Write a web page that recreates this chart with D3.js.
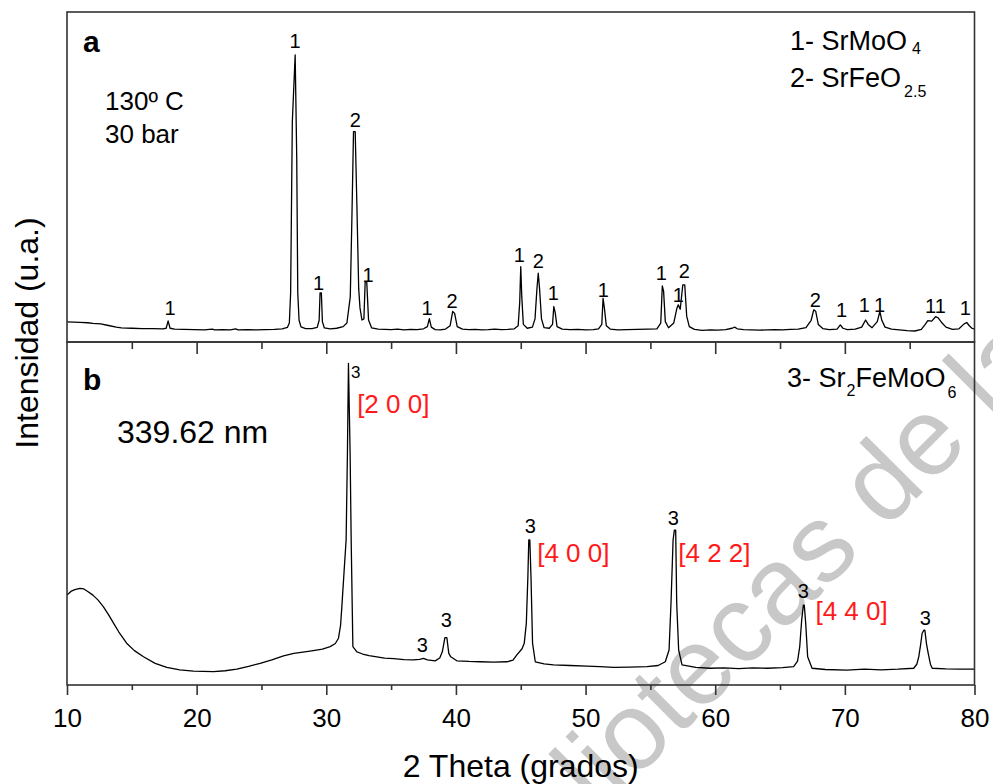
<!DOCTYPE html>
<html>
<head>
<meta charset="utf-8">
<script src="https://cdn.jsdelivr.net/npm/d3@7"></script>
<style>
  html, body { margin: 0; padding: 0; background: #fff; }
  svg { display: block; font-family: "Liberation Sans", Arial, Helvetica, sans-serif; }
</style>
</head>
<body>
<svg id="chart" width="993" height="784"></svg>
<script>
// ---- X-ray diffraction scans: [2θ (deg), intensity (a.u.)] ----
// (a) hydrothermal product, 130 ºC / 30 bar
const scanA = [
  [10.0,2.9],[10.5,2.8],[11.0,2.7],[11.6,2.6],[12.0,2.4],[12.6,2.2],[13.2,1.6],[13.8,1.0],[14.2,0.7],
  [15.0,0.6],[15.8,0.5],[16.6,0.5],[17.4,0.4],[17.65,0.6],[17.8,3.3],[17.95,0.6],[18.3,0.3],[19.0,0.2],
  [19.8,0.1],[20.6,0.0],[21.2,0.3],[21.4,0.0],[22.0,0.1],[22.6,0.0],[23.0,0.4],[23.2,0.0],[23.9,0.1],
  [24.6,0.0],[25.3,0.1],[26.0,0.2],[26.6,0.4],[27.0,0.9],[27.15,2.5],[27.25,13.5],[27.38,75.6],[27.6,100],
  [27.72,62.9],[27.8,13.5],[27.9,3.5],[28.05,1.1],[28.4,0.5],[28.9,0.5],[29.3,0.9],[29.45,3.5],[29.52,13.5],
  [29.62,13.5],[29.7,3.0],[29.85,0.7],[30.3,0.4],[30.8,0.6],[31.3,1.2],[31.59,2.5],[31.85,12],[31.97,39.3],
  [32.1,72.1],[32.23,72.1],[32.36,45.5],[32.5,15],[32.6,8],[32.75,3.6],[32.9,4.0],[33.0,17.5],[33.12,17.5],
  [33.26,3.6],[33.5,0.7],[34.0,0.3],[34.5,0.2],[35.0,0.1],[35.5,0.3],[36.0,0.0],[36.5,0.2],[37.0,0.1],
  [37.5,0.4],[37.8,1.2],[37.95,4.1],[38.1,1.0],[38.4,0.1],[38.8,0.0],[39.2,0.3],[39.55,1.5],[39.75,6.7],
  [39.9,6.0],[40.1,1.2],[40.5,0.3],[41.0,0.1],[41.5,0.2],[42.0,0.0],[42.5,0.1],[43.0,0.3],[43.5,0.1],
  [44.0,0.2],[44.5,0.4],[44.8,1.5],[44.92,10],[45.0,23],[45.08,12],[45.2,2.0],[45.5,0.6],[45.9,1.0],
  [46.1,4],[46.25,15],[46.35,20.6],[46.45,15],[46.6,4],[46.8,0.8],[47.2,0.6],[47.45,2],[47.55,8.5],
  [47.65,6.5],[47.8,1.2],[48.2,0.3],[48.8,0.1],[49.4,0.2],[50.0,0.0],[50.6,0.1],[51.0,0.4],[51.25,2],
  [51.35,11.5],[51.45,8],[51.6,1.5],[51.9,0.3],[52.5,0.0],[53.2,0.1],[54.0,0.2],[54.8,0.3],[55.5,0.4],
  [55.8,2.5],[55.92,16],[56.02,14],[56.15,3],[56.4,0.8],[56.8,2.5],[57.05,8],[57.15,9.1],[57.3,7.5],
  [57.5,16.4],[57.65,16.4],[57.8,5],[58.0,1.2],[58.4,0.2],[59.0,-0.2],[59.6,0.0],[60.2,-0.1],[60.8,0.1],
  [61.3,0.6],[61.5,1.0],[61.7,0.4],[62.2,0.1],[62.8,0.0],[63.4,-0.1],[64.0,0.0],[64.6,0.1],[65.2,0.0],
  [65.8,0.2],[66.4,0.3],[67.0,0.8],[67.4,3.5],[67.6,7.3],[67.75,6.8],[67.95,2],[68.3,0.5],[68.8,0.1],
  [69.4,0.3],[69.65,1.8],[69.85,0.6],[70.2,0.1],[70.8,0.3],[71.3,1.0],[71.6,3.6],[71.8,2.0],[72.1,0.8],
  [72.5,3.0],[72.7,6.7],[72.85,3.5],[73.1,1.0],[73.6,0.3],[74.2,0.0],[74.8,-0.3],[75.4,-0.4],[75.9,0.2],
  [76.2,2.0],[76.4,3.4],[76.7,3.2],[77.0,4.8],[77.2,4.4],[77.5,2.5],[77.8,1.0],[78.3,0.2],[78.8,0.4],
  [79.2,2.2],[79.4,2.7],[79.6,1.5],[79.8,0.6],[80.0,0.3]
];

// (b) Sr2FeMoO6, crystallite size 339.62 nm
const scanB = [
  [10.0,24.8],[10.3,26.0],[10.6,26.6],[11.0,27.0],[11.3,26.8],[11.6,26.0],[12.0,24.8],[12.4,23.2],
  [12.8,21.1],[13.2,18.5],[13.6,15.7],[14.0,12.9],[14.6,9.3],[15.2,6.9],[15.9,4.9],[16.8,2.8],[17.7,1.5],
  [18.7,0.7],[19.75,0.3],[20.5,0.2],[21.3,0.1],[22.2,0.4],[23.1,0.9],[24.0,1.8],[24.9,2.8],[25.8,3.9],
  [26.7,5.2],[27.5,6.0],[28.2,6.4],[29.0,6.9],[29.7,7.4],[30.3,8.2],[30.7,9.2],[30.94,10.9],[31.1,15],
  [31.2,21],[31.38,32.9],[31.53,42.6],[31.63,70.5],[31.71,99.6],[31.84,70],[31.92,42.6],[32.05,8.2],
  [32.36,6.5],[32.8,5.8],[33.3,5.3],[33.9,4.9],[34.5,4.5],[35.2,4.3],[36.0,4.0],[36.7,3.9],[37.2,4.1],
  [37.5,4.4],[37.8,3.9],[38.4,3.6],[38.75,4.5],[38.95,6.5],[39.15,11.1],[39.3,11.1],[39.45,6],[39.6,4.9],
  [40.07,3.6],[41.0,3.4],[41.87,3.3],[42.9,3.2],[43.93,3.3],[44.4,3.8],[44.7,5.5],[45.1,7.5],[45.27,9.3],
  [45.43,15.7],[45.55,30.7],[45.62,42.6],[45.7,42.6],[45.79,30.7],[45.91,9.3],[46.12,3.3],[46.8,2.6],
  [47.53,2.3],[48.8,2.1],[50.1,1.9],[51.1,1.7],[52.16,1.5],[53.4,1.6],[54.74,1.7],[55.6,2.1],[56.15,3.3],
  [56.44,7.1],[56.59,22.2],[56.75,42.6],[56.85,45.8],[56.95,45.8],[57.03,22.2],[57.18,7.1],[57.44,2.3],
  [58.5,1.5],[59.6,1.2],[60.7,1.3],[61.8,1.1],[62.9,1.3],[64.0,1.2],[65.2,1.4],[66.05,1.7],[66.35,3.5],
  [66.52,8.2],[66.67,16.8],[66.8,21.6],[66.87,21.6],[66.98,15.7],[67.13,4.9],[67.47,1.2],[68.5,0.8],
  [70.17,0.6],[71.5,0.9],[72.8,0.7],[74.1,0.9],[75.31,1.2],[75.55,2.5],[75.7,4.9],[75.85,9],[75.96,12.5],
  [76.1,13.5],[76.17,13.5],[76.3,9],[76.43,6],[76.6,2.5],[76.74,1.2],[77.8,1.0],[78.9,0.9],[80.0,0.9]
];

// Phase markers: [label, 2θ, intensity at label baseline]
const phaseMarksA = [
  ["1",17.95,5.5],["1",27.6,102.5],["1",29.4,14.5],["2",32.23,73.8],["1",33.23,17.5],
  ["1",37.78,5.5],["2",39.71,8],["1",44.88,24.7],["2",46.35,22.5],["1",47.51,10.9],
  ["1",51.37,12],["1",55.84,18.2],["1",57.15,10.2],["2",57.62,18.9],["2",67.73,8.4],
  ["1",69.74,4.7],["1",71.51,6.5],["1",72.67,6.5],["11",76.99,6.2],["1",79.3,5.5]
];
const phaseMarksB = [
  ["3",32.27,94.8],["3",37.4,6.5],["3",39.25,14.5],["3",45.73,44.8],
  ["3",56.77,47.4],["3",66.8,23.9],["3",76.2,15.2]
];
// Miller indices of the main Sr2FeMoO6 reflections: [label, 2θ, intensity at baseline]
const reflectionsB = [
  ["[2 0 0]",32.38,83.5],["[4 0 0]",46.27,35.5],["[4 2 2]",57.15,35.5],["[4 4 0]",67.73,16.8]
];

const thetaMajor = [10,20,30,40,50,60,70,80];
const thetaMinor = [15,25,35,45,55,65,75];

// ---- layout ----
const svg = d3.select("#chart");
const X0 = 67, X1 = 974.5;
const topA = 12, split = 342, bottomB = 685;

const x  = d3.scaleLinear().domain([10, 80]).range([X0, X1]);
const yA = d3.scaleLinear().domain([-4.4, 115.6]).range([split, topA]);
const yB = d3.scaleLinear().domain([-4.2, 106.5]).range([bottomB, split]);

// watermark of the hosting library, behind everything
svg.append("text")
  .attr("transform", "translate(487,928) rotate(-45)")
  .attr("font-size", 110)
  .attr("fill", "#c8c8c8")
  .text("Bibliotecas de la Universidad");

// clip regions for both panels
const defs = svg.append("defs");
defs.append("clipPath").attr("id", "clipA").append("rect")
  .attr("x", X0).attr("y", topA).attr("width", X1 - X0).attr("height", split - topA);
defs.append("clipPath").attr("id", "clipB").append("rect")
  .attr("x", X0).attr("y", split).attr("width", X1 - X0).attr("height", bottomB - split);

const lineA = d3.line().x(d => x(d[0])).y(d => yA(d[1]));
const lineB = d3.line().x(d => x(d[0])).y(d => yB(d[1]));

svg.append("path").datum(scanA).attr("clip-path", "url(#clipA)")
  .attr("d", lineA).attr("fill", "none").attr("stroke", "#000").attr("stroke-width", 1.3)
  .attr("stroke-linejoin", "round");
svg.append("path").datum(scanB).attr("clip-path", "url(#clipB)")
  .attr("d", lineB).attr("fill", "none").attr("stroke", "#000").attr("stroke-width", 1.3)
  .attr("stroke-linejoin", "round");

// panel frames
const frame = svg.append("g").attr("fill", "none").attr("stroke", "#333").attr("stroke-width", 1.6);
frame.append("rect").attr("x", X0).attr("y", topA).attr("width", X1 - X0).attr("height", split - topA);
frame.append("rect").attr("x", X0).attr("y", split).attr("width", X1 - X0).attr("height", bottomB - split);

// bottom axis with outward ticks
const gx = svg.append("g").attr("transform", `translate(0,${bottomB})`)
  .call(d3.axisBottom(x).tickValues(thetaMajor).tickSize(10).tickFormat(d3.format("d")));
gx.select(".domain").remove();
gx.selectAll(".tick line").attr("stroke", "#333").attr("stroke-width", 1.6);
gx.selectAll(".tick text").attr("y", 42).attr("dy", null)
  .attr("font-size", 26).attr("fill", "#000").attr("font-family", null);
const gxm = svg.append("g").attr("transform", `translate(0,${bottomB})`)
  .call(d3.axisBottom(x).tickValues(thetaMinor).tickSize(5).tickFormat(""));
gxm.select(".domain").remove();
gxm.selectAll(".tick line").attr("stroke", "#333").attr("stroke-width", 1.6);

// inward ticks on the top edge of panel b
const gt = svg.append("g").attr("transform", `translate(0,${split})`)
  .call(d3.axisTop(x).tickValues(thetaMajor.slice(1, -1)).tickSize(-12).tickFormat(""));
gt.select(".domain").remove();
gt.selectAll(".tick line").attr("stroke", "#333").attr("stroke-width", 1.6);
const gtm = svg.append("g").attr("transform", `translate(0,${split})`)
  .call(d3.axisTop(x).tickValues(thetaMinor).tickSize(-7).tickFormat(""));
gtm.select(".domain").remove();
gtm.selectAll(".tick line").attr("stroke", "#333").attr("stroke-width", 1.6);

// axis titles
svg.append("text").attr("x", (X0 + X1) / 2).attr("y", 777).attr("text-anchor", "middle")
  .attr("font-size", 32).text("2 Theta (grados)");
svg.append("text").attr("transform", "translate(38,333) rotate(-90)").attr("text-anchor", "middle")
  .attr("font-size", 32).text("Intensidad (u.a.)");

// phase markers
svg.append("g").selectAll("text").data(phaseMarksA).join("text")
  .attr("x", d => x(d[1])).attr("y", d => yA(d[2])).attr("text-anchor", "middle")
  .attr("font-size", 20).text(d => d[0]);
svg.append("g").selectAll("text").data(phaseMarksB).join("text")
  .attr("x", d => x(d[1])).attr("y", d => yB(d[2])).attr("text-anchor", "middle")
  .attr("font-size", (d, i) => i === 0 ? 17 : 20).text(d => d[0]);
svg.append("g").selectAll("text").data(reflectionsB).join("text")
  .attr("x", d => x(d[1])).attr("y", d => yB(d[2]))
  .attr("font-size", 26).attr("fill", "#ff1a1a").text(d => d[0]);

// panel letters and conditions
svg.append("text").attr("x", 83).attr("y", 52).attr("font-size", 30).attr("font-weight", "bold").text("a");
svg.append("text").attr("x", 83).attr("y", 390).attr("font-size", 30).attr("font-weight", "bold").text("b");
svg.append("text").attr("x", 105).attr("y", 110).attr("font-size", 26).text("130º C");
svg.append("text").attr("x", 105).attr("y", 143).attr("font-size", 26).text("30 bar");
svg.append("text").attr("x", 117).attr("y", 443).attr("font-size", 32).text("339.62 nm");

// phase legends with chemical subscripts
function formula(xp, yp, parts) {
  const t = svg.append("text").attr("x", xp).attr("y", yp).attr("font-size", 27);
  parts.forEach(p => {
    const s = t.append("tspan").text(p.t);
    if (p.sub) s.attr("font-size", 16).attr("dy", p.dy).attr("dx", p.dx || 0);
    else if (p.back) s.attr("dy", p.back);
  });
}
formula(790, 50, [{t: "1- SrMoO"}, {t: "4", sub: true, dy: 4, dx: 5}]);
formula(790, 87, [{t: "2- SrFeO"}, {t: "2.5", sub: true, dy: 10, dx: 3}]);
formula(787, 387, [{t: "3- Sr"}, {t: "2", sub: true, dy: 9, dx: 1}, {t: "FeMoO", back: -9},
                   {t: "6", sub: true, dy: 11, dx: 2}]);
</script>
</body>
</html>
